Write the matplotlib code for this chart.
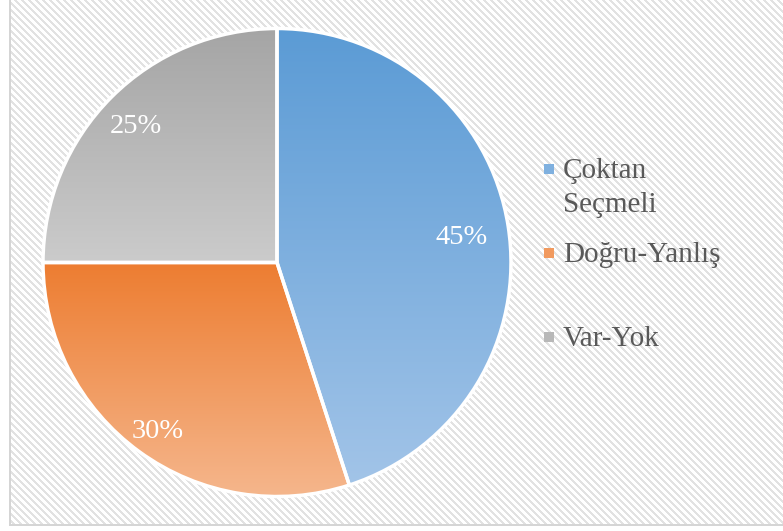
import numpy as np
import matplotlib
matplotlib.use("Agg")
import matplotlib.pyplot as plt
from matplotlib.patches import Rectangle
from matplotlib.colors import to_rgb

categories = ["Çoktan\nSeçmeli", "Doğru-Yanlış", "Var-Yok"]
values = [45, 30, 25]
top_colors = ["#5b9bd5", "#ed7d31", "#a5a5a5"]
bottom_colors = ["#a2c4e8", "#f5b68c", "#cbcbcb"]
label_dist = [0.80, 0.87, 0.85]

W, H = 783, 531
fig = plt.figure(figsize=(W / 100, H / 100), dpi=100)
fig.patch.set_facecolor("white")

# hatched background inside the frame
yy, xx = np.mgrid[0:H, 0:W]
bg = np.ones((H, W, 3))
stripe = ((xx - yy) % 7) < 3
inside = (xx >= 10) & (yy <= 523)
bg[stripe & inside] = to_rgb("#e2e2e2")
fig.figimage(bg, xo=0, yo=0, origin="upper", zorder=0)

# frame (left and bottom visible)
fax = fig.add_axes([0, 0, 1, 1], zorder=1)
fax.set_xlim(0, W)
fax.set_ylim(H, 0)
fax.axis("off")
fax.patch.set_alpha(0)
fax.plot([9.5, 9.5], [-5, 524.5], color="#d4d4d4", lw=1.4)
fax.plot([9.5, W + 5], [524.5, 524.5], color="#d4d4d4", lw=1.4)

# pie
cx, cy, r = 277, 262.5, 234
ax = fig.add_axes([(cx - r) / W, (H - cy - r) / H, 2 * r / W, 2 * r / H], zorder=2)
ax.patch.set_alpha(0)
wedges, texts, autotexts = ax.pie(
    values, startangle=90, counterclock=False, radius=1,
    autopct="%1.0f%%", pctdistance=0.83,
    wedgeprops=dict(facecolor="none", edgecolor="white", linewidth=2.5),
    textprops=dict(color="white", fontsize=20.5, family="Liberation Serif"),
)
for i, w in enumerate(wedges):
    w.set_zorder(3)
    ext = w.get_path().get_extents()
    c0 = np.array(to_rgb(top_colors[i]))
    c1 = np.array(to_rgb(bottom_colors[i]))
    t = np.linspace(0, 1, 256)[:, None, None]
    grad = c0 * (1 - t) + c1 * t
    im = ax.imshow(grad, extent=(ext.x0, ext.x1, ext.y0, ext.y1), origin="upper",
                   aspect="auto", interpolation="bilinear", zorder=2)
    im.set_clip_path(w)
    ang = np.deg2rad((w.theta1 + w.theta2) / 2)
    autotexts[i].set_position((label_dist[i] * np.cos(ang),
                               label_dist[i] * np.sin(ang) - 0.02))
    autotexts[i].set_zorder(5)
ax.set_xlim(-1, 1)
ax.set_ylim(-1, 1)
ax.axis("off")

# legend
marker_y = [168.5, 252.5, 336.5]
text_base = [178.5, 262, 346]
for i, lab in enumerate(categories):
    c0 = np.array(to_rgb(top_colors[i]))
    c1 = np.array(to_rgb(bottom_colors[i]))
    fax.add_patch(Rectangle((544, marker_y[i] - 5), 10, 10, facecolor=(c0 + c1) / 2,
                            edgecolor="none", zorder=3))
    lines = lab.split("\n")
    for j, ln in enumerate(lines):
        fax.text(563, text_base[i] + 33.5 * j, ln, fontsize=21, family="Liberation Serif",
                 color="#595959", va="baseline", ha="left", zorder=3)

fig.savefig("out.png", dpi=100)
